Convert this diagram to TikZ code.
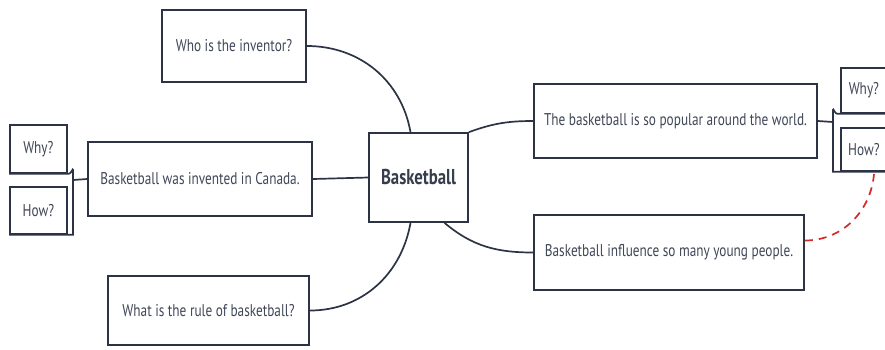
\documentclass[tikz,border=0pt]{standalone}
\usepackage{fontspec}
\setmainfont{PT Sans}[FakeStretch=0.78]
\begin{document}
\begin{tikzpicture}[x=1pt,y=-1pt,
  box/.style={draw=ink,line width=1.7pt,fill=white,inner sep=0pt,font=\fontsize{17}{19}\selectfont,text=ink!90},
  link/.style={draw=ink,line width=1.7pt},
  rlink/.style={draw=redline,line width=1.7pt,dash pattern=on 8pt off 6pt}]
\definecolor{ink}{HTML}{2B3344}
\definecolor{redline}{HTML}{D42A2A}
\useasboundingbox (0,0) rectangle (885,349);
% nodes
\node[box,minimum width=144pt,minimum height=72pt] (who) at (234,46) {Who is the inventor?};
\node[box,minimum width=224pt,minimum height=74pt] (canada) at (200,179) {Basketball was invented in Canada.};
\node[box,minimum width=201pt,minimum height=69pt] (rule) at (208.5,310.5) {What is the rule of basketball?};
\node[box,minimum width=99pt,minimum height=89pt,font=\fontsize{21.5}{24}\selectfont\bfseries,text=ink!95] (bb) at (418.5,177.5) {Basketball};
\node[box,minimum width=283pt,minimum height=74pt] (pop) at (675.5,121) {The basketball is so popular around the world.};
\node[box,minimum width=270pt,minimum height=75pt] (inf) at (669,252.5) {Basketball influence so many young people.};
\node[box,minimum width=57pt,minimum height=48pt,anchor=north west] (lwhy) at (9,124) {Why?};
\node[box,minimum width=57pt,minimum height=47pt,anchor=north west] (lhow) at (9,186) {How?};
\node[box,minimum width=46pt,minimum height=45pt,anchor=north west] (rwhy) at (840,67) {Why?};
\node[box,minimum width=46pt,minimum height=43pt,anchor=north west] (rhow) at (840,127) {How?};
% brackets
\coordinate (lbr) at (73,180);
\draw[link] (lwhy.south west) -- ([xshift=-4pt]lbr|-lwhy.south) to[out=0,in=90] ([yshift=4pt]lbr|-lwhy.south) -- (lbr|-lhow.south) -- (lhow.south west);
\draw[link] (canada.west) -- (lbr);
\coordinate (rbr) at (833,122);
\draw[link] (rwhy.south east) -- ([xshift=4pt]rbr|-rwhy.south) to[out=180,in=90] ([yshift=4pt]rbr|-rwhy.south) -- (rbr|-rhow.south) -- (rhow.south east);
\draw[link] (pop.east) -- (rbr);
% connectors
\draw[link] (who.east) to[out=0,in=100] ([xshift=-8pt]bb.north);
\draw[link] (canada.east) -- (bb.west);
\draw[link] (rule.east) to[out=0,in=-100] ([xshift=-8pt]bb.south);
\draw[link] (bb.north east) to[out=20,in=180] (pop.west);
\draw[link] ([xshift=26pt]bb.south) to[out=-40,in=180] (inf.west);
\coordinate (rend) at (874,174);
\draw[rlink] ([yshift=12pt]inf.east) to[out=0,in=-95] (rend);
\end{tikzpicture}
\end{document}
